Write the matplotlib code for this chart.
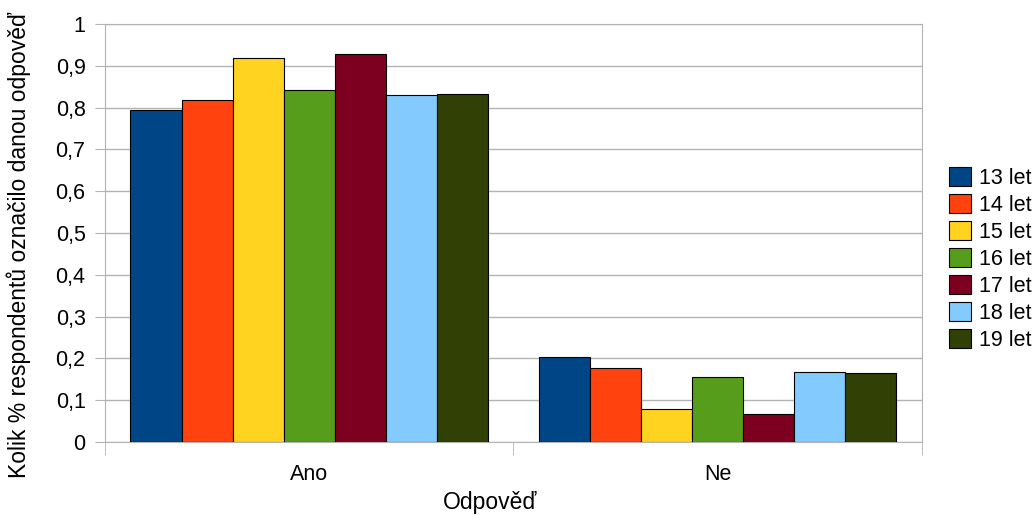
import numpy as np
import matplotlib
matplotlib.use('Agg')
import matplotlib.pyplot as plt
from matplotlib.ticker import FixedLocator, FuncFormatter

plt.rcParams['font.family'] = ['Liberation Sans', 'DejaVu Sans']

categories = ['Ano', 'Ne']
series = ['13 let', '14 let', '15 let', '16 let', '17 let', '18 let', '19 let']
values = {
    '13 let': [0.795, 0.203],
    '14 let': [0.818, 0.178],
    '15 let': [0.919, 0.078],
    '16 let': [0.841, 0.155],
    '17 let': [0.929, 0.067],
    '18 let': [0.829, 0.168],
    '19 let': [0.833, 0.165],
}
colors = ['#004586', '#ff420e', '#ffd320', '#579d1c', '#7e0021', '#83caff', '#314004']

fig = plt.figure(figsize=(10.34, 5.15), dpi=100)
ax = fig.add_axes([0.1015, 0.1417, 0.79, 0.8117])

x = np.arange(len(categories))
group_w = 0.875
bw = group_w / len(series)
for i, s in enumerate(series):
    ax.bar(x - group_w / 2 + bw * (i + 0.5), values[s], bw, color=colors[i],
           edgecolor='black', linewidth=0.8, label=s, zorder=3)

ax.set_xlim(-0.5, len(categories) - 0.5)
ax.set_ylim(0, 1)
ax.set_yticks(np.arange(0, 1.01, 0.1))
ax.yaxis.set_major_formatter(FuncFormatter(lambda v, p: ('%g' % round(v, 1)).replace('.', ',')))
ax.yaxis.grid(True, color='#b3b3b3', linewidth=1, zorder=0)

ax.set_xticks(x)
ax.set_xticklabels(categories)
ax.xaxis.set_minor_locator(FixedLocator([-0.5, 0.5, 1.5]))
ax.tick_params(axis='x', which='major', length=0, pad=16, labelsize=15.5)
ax.tick_params(axis='x', which='minor', length=9, color='#b3b3b3')
ax.tick_params(axis='y', length=7, color='#b3b3b3', labelsize=15.5, pad=7)

for sp in ax.spines.values():
    sp.set_color('#b3b3b3')

ax.set_xlabel('Odpověď', fontsize=16.5)
ax.xaxis.set_label_coords(0.472, -0.116)
ax.set_ylabel('Kolik % respondentů označilo danou odpověď', fontsize=16.5)
ax.yaxis.set_label_coords(-0.091, 0.472)

fig.legend(*ax.get_legend_handles_labels(), loc='center left', bbox_to_anchor=(0.918, 0.497),
           frameon=False, fontsize=15.5, borderpad=0, borderaxespad=0,
           handlelength=1.0, handleheight=1.0, labelspacing=0.23, handletextpad=0.4)

plt.savefig('out.png', dpi=100)
